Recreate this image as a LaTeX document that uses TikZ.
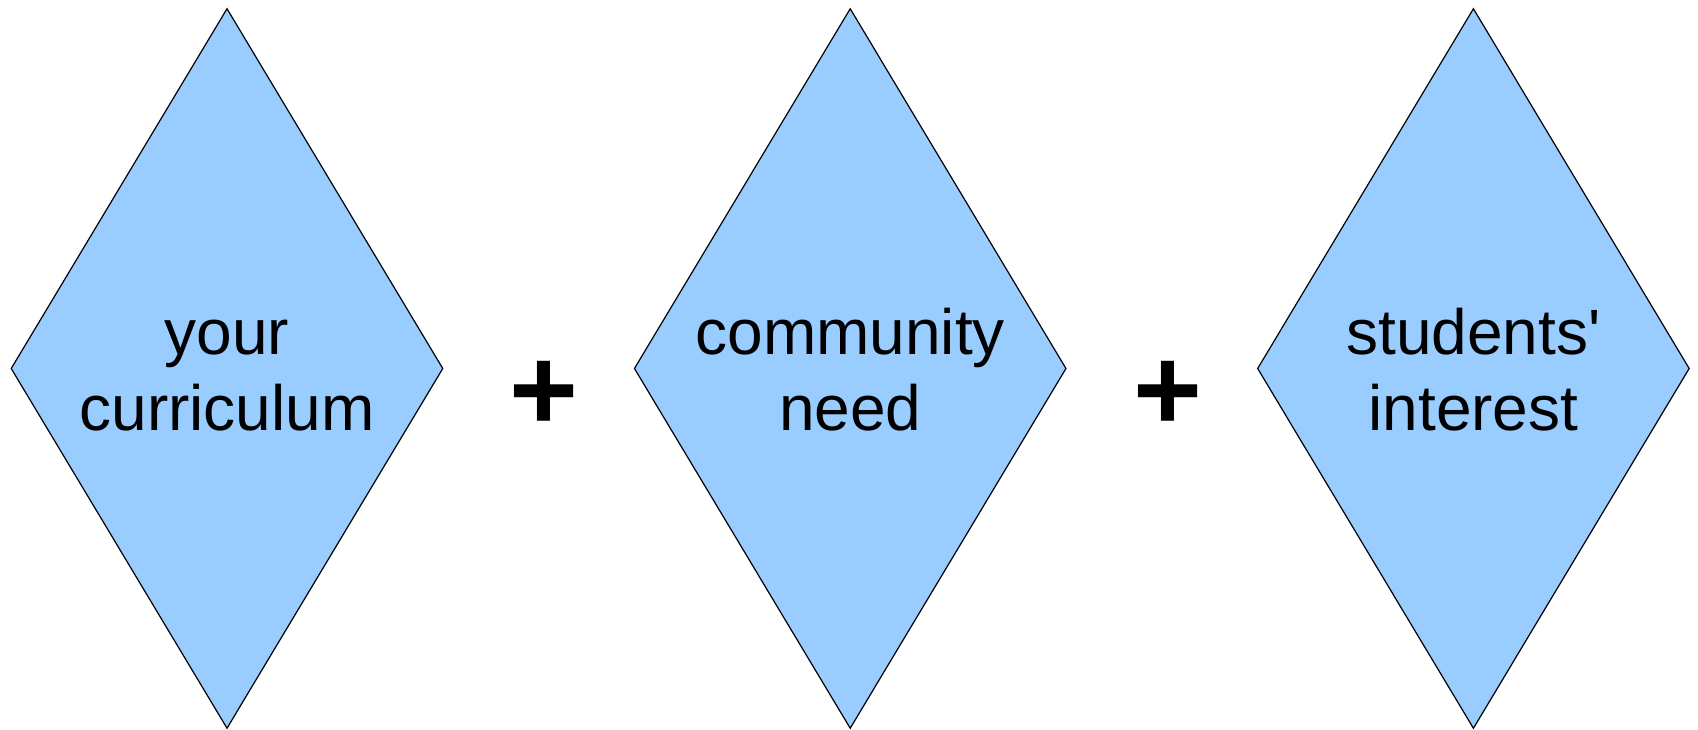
\documentclass[tikz,border=0pt]{standalone}
\usepackage{fontspec}
\setmainfont{Liberation Sans}
\usetikzlibrary{positioning, shapes.geometric}

\definecolor{diafill}{HTML}{99CCFF}

\begin{document}
\begin{tikzpicture}[
    x=1pt, y=1pt, node distance=190pt,
    dia/.style={diamond, draw=black, line width=1.2pt, fill=diafill,
                aspect=0.6, inner sep=0pt,
                minimum width=432pt, minimum height=720pt,
                align=center, font=\fontsize{64}{76}\selectfont,
                text height=125pt, text depth=0pt},
    plus/.style={inner sep=0pt, font=\fontsize{118}{120}\selectfont\bfseries}
]
  \useasboundingbox (0,0) rectangle (1698,729);

  % the three parts
  \node[dia] (cur) at (227,360.5) {your\\curriculum};
  \node[dia, right=of cur] (comm) {community\\need};
  \node[dia, right=of comm] (stud) {students\textquotesingle\\interest};

  % plus signs in between
  \node[plus, right=66pt of cur, yshift=-27.5pt] (plusa) {+};
  \node[plus, right=66pt of comm, yshift=-27.5pt] (plusb) {+};
\end{tikzpicture}
\end{document}
